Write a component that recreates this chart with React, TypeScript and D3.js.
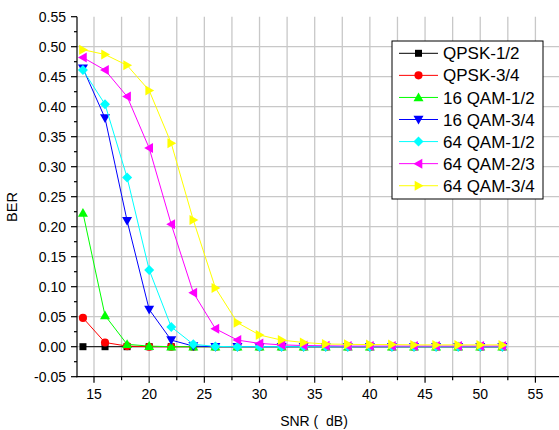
import React from 'react'
import * as d3 from 'd3'

// SNR values (dB) shared by every curve
const snr = [14, 16, 18, 20, 22, 24, 26, 28, 30, 32, 34, 36, 38, 40, 42, 44, 46, 48, 50, 52]

const qpsk12 = [0, 0, 0, 0, 0, 0, 0, 0, 0, 0, 0, 0, 0, 0, 0, 0, 0, 0, 0, 0]
const qpsk34 = [0.048, 0.007, 0.001, 0, 0, 0, 0, 0, 0, 0, 0, 0, 0, 0, 0, 0, 0, 0, 0, 0]
const qam16_12 = [0.223, 0.052, 0.004, 0.001, 0, 0, 0, 0, 0, 0, 0, 0, 0, 0, 0, 0, 0, 0, 0, 0]
const qam16_34 = [0.464, 0.381, 0.21, 0.062, 0.011, 0.001, 0, 0, 0, 0, 0, 0, 0, 0, 0, 0, 0, 0, 0, 0]
const qam64_12 = [0.461, 0.404, 0.282, 0.128, 0.033, 0.004, 0.0005, 0, 0, 0, 0, 0, 0, 0, 0, 0, 0, 0, 0, 0]
const qam64_23 = [0.482, 0.461, 0.417, 0.331, 0.204, 0.09, 0.03, 0.011, 0.0055, 0.003, 0.002, 0.0015, 0.001, 0.001, 0.001, 0.001, 0.001, 0.001, 0.001, 0.001]
const qam64_34 = [0.495, 0.487, 0.469, 0.427, 0.339, 0.211, 0.098, 0.04, 0.0195, 0.011, 0.007, 0.0045, 0.004, 0.0035, 0.0035, 0.003, 0.003, 0.003, 0.003, 0.003]

const seriesNames = ['QPSK-1/2', 'QPSK-3/4', '16 QAM-1/2', '16 QAM-3/4', '64 QAM-1/2', '64 QAM-2/3', '64 QAM-3/4']
const seriesColors = ['#000000', '#ff0000', '#00ff00', '#0000ff', '#00ffff', '#ff00ff', '#ffff00']
const seriesMarkers = ['square', 'circle', 'up', 'down', 'diamond', 'left', 'right']
const seriesValues = [qpsk12, qpsk34, qam16_12, qam16_34, qam64_12, qam64_23, qam64_34]

const xTicks = [15, 20, 25, 30, 35, 40, 45, 50, 55]
const xMinor = [17.5, 22.5, 27.5, 32.5, 37.5, 42.5, 47.5, 52.5]
const yTicks = [-0.05, 0, 0.05, 0.1, 0.15, 0.2, 0.25, 0.3, 0.35, 0.4, 0.45, 0.5, 0.55]

const W = 559
const H = 430
const FONT = '"Liberation Sans", Arial, sans-serif'

// marker outline centred on 0,0
function markerPath(kind: string) {
  switch (kind) {
    case 'square': return 'M-3.5,-3.5H3.5V3.5H-3.5Z'
    case 'circle': return d3.symbol(d3.symbolCircle, 52)() as string
    case 'up': return 'M0,-5L5,3.8L-5,3.8Z'
    case 'down': return 'M0,5L5,-3.8L-5,-3.8Z'
    case 'diamond': return 'M0,-5L5,0L0,5L-5,0Z'
    case 'left': return 'M-5,0L3.8,-5L3.8,5Z'
    case 'right': return 'M5,0L-3.8,-5L-3.8,5Z'
  }
  return ''
}

export default function App() {
  const x = d3.scaleLinear().domain([13.46, 57.5]).range([77, 563])
  const y = d3.scaleLinear().domain([-0.05, 0.55]).range([376.7, 16.7])

  const line = d3.line<number>()
    .x((_, i) => x(snr[i]))
    .y(d => y(d))

  const yMinor = yTicks.slice(0, -1).map(t => t + 0.025)
  const gridX = [...xTicks, ...xMinor].sort((a, b) => a - b)
  const gridY = yTicks.filter(t => t > -0.04 && t < 0.54)

  const legX = 392, legY = 41, legW = 151, legH = 158
  const rowGap = 22.07

  return (
    <svg width={W} height={H} viewBox={`0 0 ${W} ${H}`}
      style={{ position: 'absolute', left: 0, top: 0, background: '#fff', fontFamily: FONT }}>
      {/* grid */}
      <g stroke="#c8c8c8" strokeWidth={1.3}>
        {gridX.map(t => (
          <line key={'gx' + t} x1={x(t)} x2={x(t)} y1={y(0.55)} y2={y(-0.05)} />
        ))}
        {gridY.map(t => (
          <line key={'gy' + t} x1={x(13.46)} x2={W} y1={y(t)} y2={y(t)} />
        ))}
      </g>

      {/* series */}
      {seriesValues.map((vals, s) => (
        <g key={seriesNames[s]}>
          <path d={line(vals) as string} fill="none" stroke={seriesColors[s]} strokeWidth={1} />
          {vals.map((v, i) => (
            <path key={i} d={markerPath(seriesMarkers[s])}
              transform={`translate(${x(snr[i])},${y(v)})`} fill={seriesColors[s]} />
          ))}
        </g>
      ))}

      {/* axes */}
      <g stroke="#000" strokeWidth={1.2}>
        <line x1={77} x2={77} y1={y(0.55)} y2={y(-0.05) + 0.6} />
        <line x1={76.4} x2={W} y1={y(-0.05)} y2={y(-0.05)} />
        {yTicks.map(t => (
          <line key={'yt' + t} x1={71} x2={77} y1={y(t)} y2={y(t)} />
        ))}
        {yMinor.map(t => (
          <line key={'ym' + t} x1={74} x2={77} y1={y(t)} y2={y(t)} />
        ))}
        {xTicks.map(t => (
          <line key={'xt' + t} x1={x(t)} x2={x(t)} y1={y(-0.05)} y2={y(-0.05) + 6} />
        ))}
        {xMinor.map(t => (
          <line key={'xm' + t} x1={x(t)} x2={x(t)} y1={y(-0.05)} y2={y(-0.05) + 3.5} />
        ))}
      </g>

      {/* tick labels */}
      <g fontSize={14} fill="#000">
        {yTicks.map(t => (
          <text key={'yl' + t} x={66} y={y(t)} dy="0.35em" textAnchor="end">
            {d3.format('.2f')(t).replace('−', '-')}
          </text>
        ))}
        {xTicks.map(t => (
          <text key={'xl' + t} x={x(t)} y={399} textAnchor="middle">{t}</text>
        ))}
      </g>

      {/* axis titles */}
      <text x={314} y={426} fontSize={14} textAnchor="middle">{'SNR (\u00a0\u00a0dB)'}</text>
      <text transform="translate(17,207) rotate(-90)" fontSize={14.5} textAnchor="middle">BER</text>

      {/* legend */}
      <rect x={legX} y={legY} width={legW} height={legH} fill="#fff" stroke="#000" strokeWidth={1} />
      {seriesNames.map((name, s) => {
        const cy = legY + 12.3 + s * rowGap
        return (
          <g key={'lg' + name}>
            <line x1={399} x2={438} y1={cy} y2={cy} stroke={seriesColors[s]} strokeWidth={1} />
            <path d={markerPath(seriesMarkers[s])} transform={`translate(418.5,${cy})`} fill={seriesColors[s]} />
            <text x={443} y={cy} dy="0.36em" fontSize={17} fill="#000">{name}</text>
          </g>
        )
      })}
    </svg>
  )
}
